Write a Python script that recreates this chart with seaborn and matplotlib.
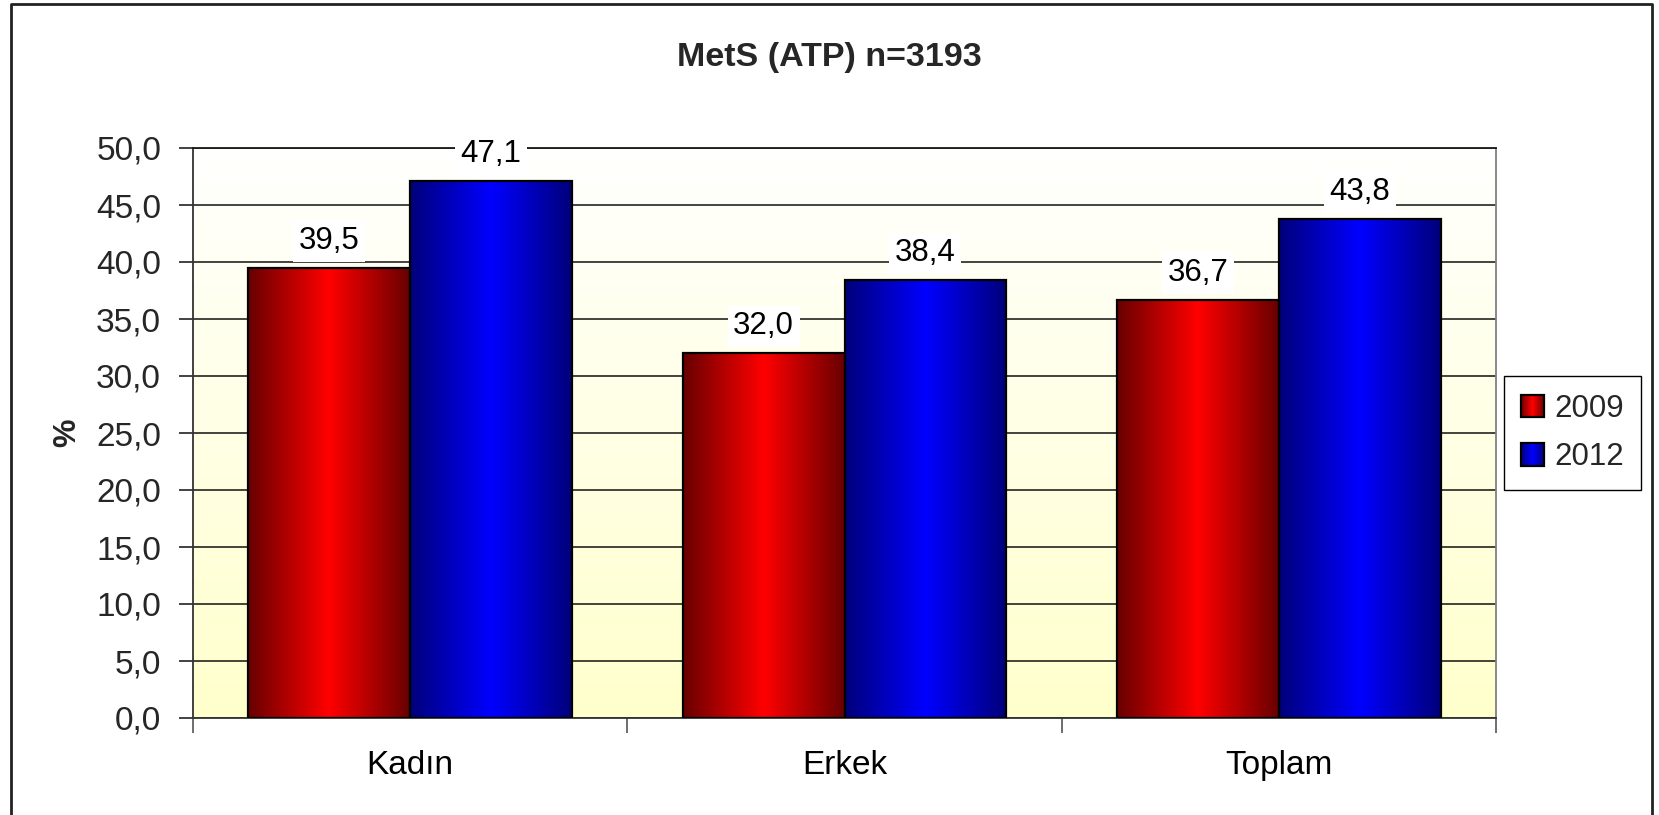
import numpy as np
import pandas as pd
import matplotlib
matplotlib.use("Agg")
import matplotlib.pyplot as plt
import matplotlib.colors as mcolors
from matplotlib.patches import Rectangle
from matplotlib.lines import Line2D
from matplotlib.image import BboxImage
from matplotlib.transforms import Bbox, TransformedBbox
from matplotlib.legend_handler import HandlerBase
import seaborn as sns

# values
categories = ["Kadın", "Erkek", "Toplam"]
years = ["2009", "2012"]
values_2009 = [39.5, 32.0, 36.7]
values_2012 = [47.1, 38.4, 43.8]
title = "MetS (ATP) n=3193"
y_ticks = [0, 5, 10, 15, 20, 25, 30, 35, 40, 45, 50]

df = pd.DataFrame({
    "kategori": categories * 2,
    "yil": [years[0]] * 3 + [years[1]] * 3,
    "deger": values_2009 + values_2012,
})

bright = {"2009": "#ff0000", "2012": "#0000ff"}
dark = {"2009": "#680000", "2012": "#00007a"}

sns.set_theme(style="white")
plt.rcParams["font.family"] = ["Liberation Sans", "DejaVu Sans"]

fig = plt.figure(figsize=(16.59, 8.15), dpi=100)
ax = fig.add_axes([193 / 1659, 1 - 718 / 815, 1303 / 1659, 570 / 815])

sns.barplot(data=df, x="kategori", y="deger", hue="yil", order=categories,
            hue_order=years, palette=bright, width=0.745, gap=0,
            edgecolor="black", linewidth=1.6, saturation=1, legend=False,
            ax=ax, zorder=3)


def h_gradient(c_dark, c_bright, n=256):
    a = np.array(mcolors.to_rgb(c_dark))
    b = np.array(mcolors.to_rgb(c_bright))
    t = 1 - np.abs(np.linspace(-1, 1, n))
    return (a[None, :] + (b - a)[None, :] * t[:, None])[None, :, :]


for cont, yr in zip(ax.containers, years):
    grad = h_gradient(dark[yr], bright[yr])
    for bar in cont:
        x0, w, h = bar.get_x(), bar.get_width(), bar.get_height()
        ax.imshow(grad, extent=[x0, x0 + w, 0, h], aspect="auto",
                  interpolation="bilinear", zorder=2.9)
        bar.set_facecolor("none")
        lbl = f"{h:.1f}".replace(".", ",")
        ax.annotate(lbl, xy=(x0 + w / 2, h), xytext=(0, 13.5),
                    textcoords="offset points", ha="center", va="baseline",
                    fontsize=22.5, color="black", zorder=4,
                    bbox=dict(boxstyle="square,pad=0.18", fc="white", ec="none"))

# background gradient, white on top to pale yellow at the bottom
top = np.array(mcolors.to_rgb("#fffffe"))
bot = np.array(mcolors.to_rgb("#ffffcc"))
tt = np.linspace(0, 1, 256)[:, None]
bg = (top[None, :] * (1 - tt) + bot[None, :] * tt)[:, None, :]
ax.imshow(bg, extent=[-0.5, 2.5, 0, 50], aspect="auto", zorder=0.1,
          interpolation="bilinear")

ax.set_xlim(-0.5, 2.5)
ax.set_ylim(0, 50)
ax.set_yticks(y_ticks)
ax.set_yticklabels([f"{v:.1f}".replace(".", ",") for v in y_ticks])
ax.set_axisbelow(True)
ax.yaxis.grid(True, color="#111111", linewidth=1.1, zorder=0.5)
ax.xaxis.grid(False)

ax.set_xticks([-0.5, 0.5, 1.5, 2.5], minor=True)
ax.tick_params(axis="x", which="major", length=0, pad=23, labelsize=24,
               colors="black")
ax.tick_params(axis="x", which="minor", length=11, width=1.2,
               color="#555555", direction="out", bottom=True)
ax.tick_params(axis="y", length=10, width=1.2, color="#222222",
               direction="out", pad=13, labelsize=24, left=True)

ax.set_xlabel("")
ax.set_ylabel("%", fontsize=23, fontweight="bold", va="center")
ax.yaxis.set_label_coords(-0.0967, 0.5)

for side, col in [("left", "#333333"), ("bottom", "#333333"),
                  ("right", "#808080"), ("top", "#1a1a1a")]:
    ax.spines[side].set_visible(True)
    ax.spines[side].set_color(col)
    ax.spines[side].set_linewidth(1.3)


class GradientHandler(HandlerBase):
    # legend key drawn with the same horizontal shading as the bars
    def __init__(self, grad):
        super().__init__()
        self.grad = grad

    def create_artists(self, legend, orig_handle, xdescent, ydescent,
                       width, height, fontsize, trans):
        bb = TransformedBbox(Bbox.from_bounds(-xdescent, -ydescent,
                                              width, height), trans)
        img = BboxImage(bb, interpolation="bilinear")
        img.set_data(self.grad)
        edge = Rectangle((-xdescent, -ydescent), width, height,
                         facecolor="none", edgecolor="black", linewidth=1.6,
                         transform=trans)
        return [img, edge]


handles = [Rectangle((0, 0), 1, 1), Rectangle((0, 1), 1, 1)]
hmap = {handles[0]: GradientHandler(h_gradient("#700000", "#ff0000")),
        handles[1]: GradientHandler(h_gradient("#000080", "#0000ff"))}
leg = ax.legend(handles, years, handler_map=hmap, loc="center left",
                bbox_to_anchor=(1.006, 0.5), fontsize=22.5, frameon=True,
                fancybox=False, framealpha=1, edgecolor="black",
                handlelength=0.72, handleheight=0.72, handletextpad=0.35,
                borderpad=0.55, labelspacing=0.6, borderaxespad=0)
leg.get_frame().set_linewidth(1.0)

fig.suptitle(title, x=0.5, y=1 - 66 / 815, va="baseline", fontsize=24.5,
             fontweight="bold")

# outer chart frame (bottom edge is cut off in the source)
fx0, fx1, fy = 11 / 1659, 1652 / 1659, 1 - 4 / 815
fig.add_artist(Line2D([fx0, fx0, fx1, fx1], [-0.02, fy, fy, -0.02],
                      transform=fig.transFigure, color="#222222", linewidth=2))

fig.savefig("out.png", dpi=100, facecolor="white")
